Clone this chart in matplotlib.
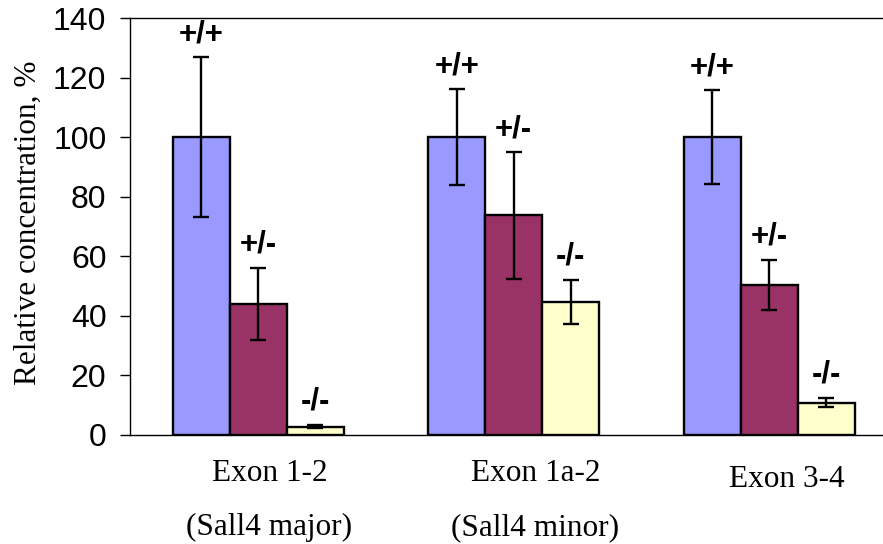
import numpy as np
import matplotlib
matplotlib.use("Agg")
import matplotlib.pyplot as plt
from matplotlib.transforms import blended_transform_factory

# data
groups = ["Exon 1-2", "Exon 1a-2", "Exon 3-4"]
subtitles = ["(Sall4 major)", "(Sall4 minor)", ""]
genotypes = ["+/+", "+/-", "-/-"]
wt_vals = [100, 100, 100]
het_vals = [44, 73.7, 50.4]
ko_vals = [2.8, 44.7, 10.9]
wt_err = [26.8, 16, 15.7]
het_err = [12, 21.2, 8.5]
ko_err = [0.5, 7.3, 1.6]

colors = ["#9999FF", "#993366", "#FFFFCC"]
serif = ["Liberation Serif", "DejaVu Serif"]

plt.rcParams["font.family"] = ["Liberation Sans", "DejaVu Sans"]

fig = plt.figure(figsize=(8.83, 5.44), dpi=100)
ax = fig.add_axes([130 / 883, 1 - 435 / 544, 753 / 883, 417 / 544])

x = np.arange(len(groups))
width = 0.223
series = [(wt_vals, wt_err), (het_vals, het_err), (ko_vals, ko_err)]

for i, (vals, errs) in enumerate(series):
    pos = x + (i - 1) * width
    ax.bar(pos, vals, width, color=colors[i], edgecolor="black", linewidth=1.7, zorder=2)
    ax.errorbar(pos, vals, yerr=errs, fmt="none", ecolor="black", elinewidth=1.7,
                capsize=6, capthick=1.7, zorder=3)
    for p, v, e in zip(pos, vals, errs):
        ax.annotate(genotypes[i], (p, v + e), xytext=(0, 11), textcoords="offset points",
                    ha="center", va="baseline", fontsize=22.5, fontweight="bold")

ax.set_xlim(-0.502, 2.446)
ax.set_ylim(0, 140)
ax.set_yticks(np.arange(0, 141, 20))
ax.set_xticks([])
ax.tick_params(axis="y", direction="out", length=7, width=1, pad=10, labelsize=23)

for side in ["left", "bottom", "top"]:
    ax.spines[side].set_linewidth(1)
ax.spines["right"].set_visible(False)

ax.set_ylabel("Relative concentration, %", family=serif, fontsize=22.5)
ax.yaxis.set_label_coords(-0.116, 0.508)

# category labels under the axis (slightly right of the group centres, as in the original)
trans = blended_transform_factory(ax.transData, fig.transFigure)
label_dx = [0.045, 0.088, 0.07]
label_y = [0.115, 0.115, 0.1053]
for i in range(len(groups)):
    ax.text(x[i] + label_dx[i], label_y[i], groups[i], transform=trans, ha="center",
            va="baseline", fontsize=22.5, family=serif)
    if subtitles[i]:
        ax.text(x[i] + label_dx[i] - 0.003, 0.0165, subtitles[i], transform=trans,
                ha="center", va="baseline", fontsize=22.5, family=serif)

fig.savefig("out.png", dpi=100)
